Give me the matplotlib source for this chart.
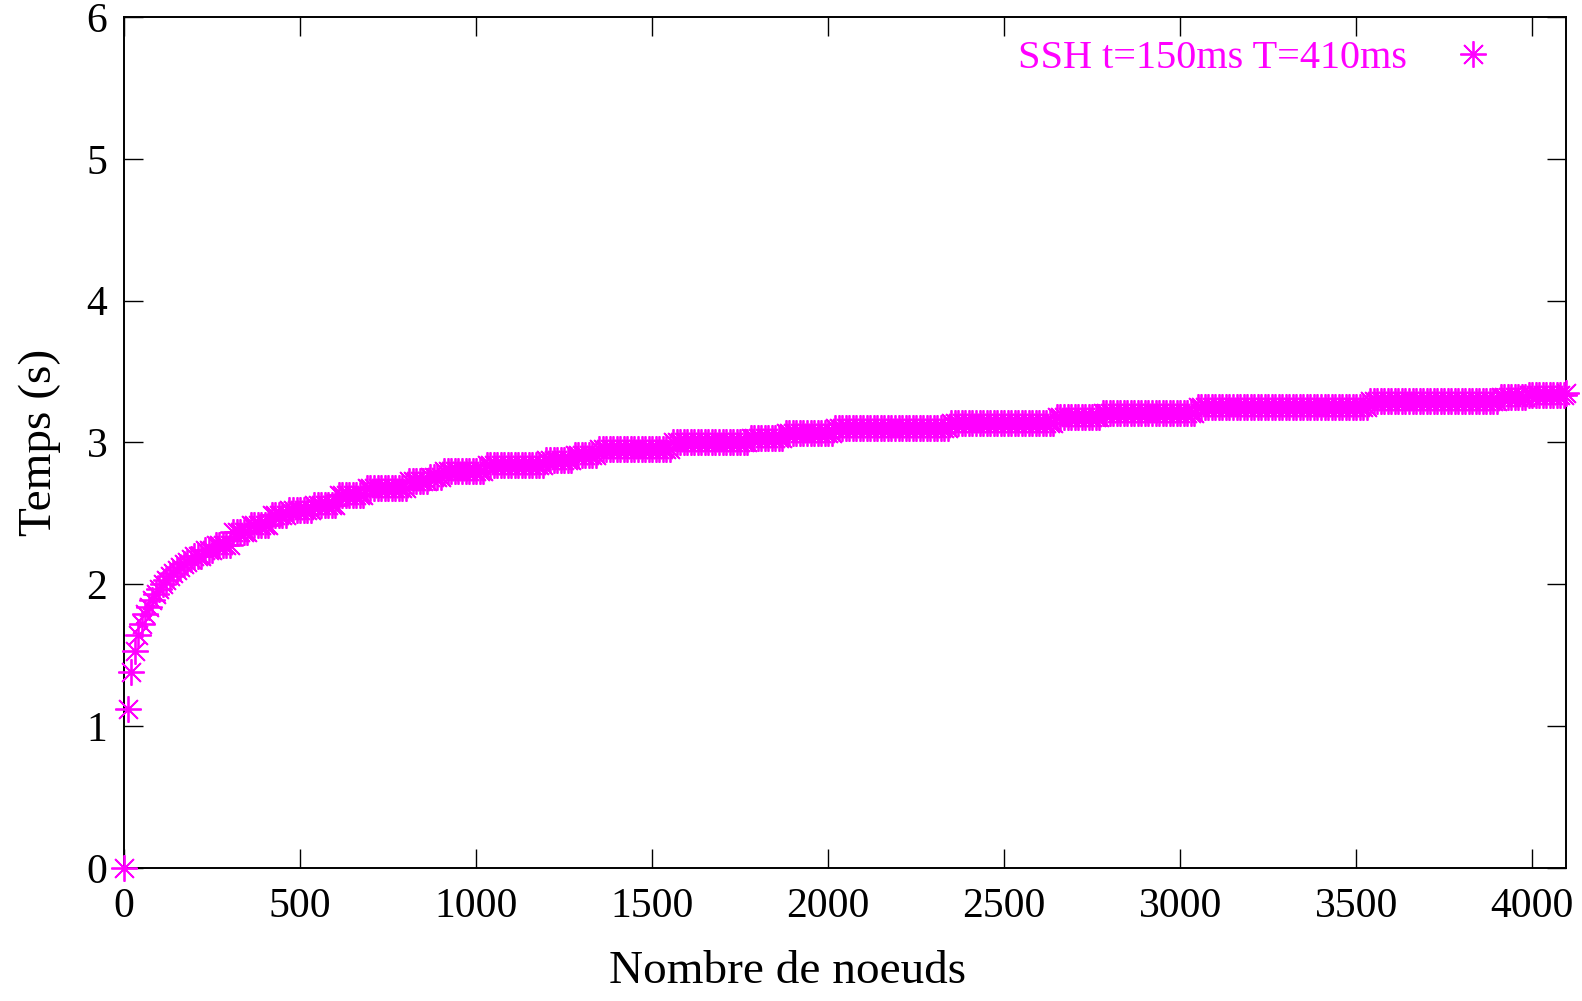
import numpy as np
import matplotlib

matplotlib.use("Agg")
import matplotlib.pyplot as plt

plt.rcParams["font.family"] = ["Liberation Serif", "DejaVu Serif"]

MAGENTA = "#FF00FF"

# --- début de courbe, lu point par point (noeuds, secondes)
EARLY_N = [0, 10, 20, 30, 40, 50, 60, 70, 80, 90, 100, 110, 120, 130, 140, 150, 160, 170, 180, 190]
EARLY_T = [0.0, 1.12, 1.38, 1.53, 1.64, 1.72, 1.79, 1.84, 1.89, 1.93, 1.97, 2.00, 2.03, 2.06,
           2.08, 2.10, 2.12, 2.14, 2.16, 2.18]

# --- paliers ensuite : noeud de début du palier, temps du palier
STEP_N = [200, 230, 260, 305, 360, 415, 470, 535, 610, 690, 805, 865, 910, 1030, 1200, 1280,
          1350, 1560, 1780, 1880, 2015, 2350, 2645, 2775, 3045, 3540, 3910, 3985, 4096]
STEP_T = [2.20, 2.24, 2.28, 2.37, 2.42, 2.49, 2.525, 2.56, 2.63, 2.68, 2.73, 2.76, 2.80, 2.84,
          2.88, 2.915, 2.955, 3.00, 3.03, 3.07, 3.10, 3.14, 3.18, 3.21, 3.25, 3.29, 3.32, 3.335,
          3.35]

SAMPLE_STEP = 10  # une mesure tous les 10 noeuds
LABEL = "SSH t=150ms T=410ms"

nodes = np.append(np.arange(0, 4096, SAMPLE_STEP), 4096)
early = dict(zip(EARLY_N, EARLY_T))
times = []
for n in nodes:
    if n in early:
        times.append(early[n])
    else:
        i = np.searchsorted(STEP_N, n, side="right") - 1
        times.append(STEP_T[i])

fig = plt.figure(figsize=(15.82, 10.01), dpi=100)
ax = fig.add_axes([0.0784, 0.1331, 0.9899 - 0.0784, 0.9828 - 0.1331])

ax.plot(nodes, times, ls="none", marker=(8, 2, 0), ms=19, mew=1.3, color=MAGENTA,
        label=LABEL, clip_on=False, zorder=3)

ax.set_xlim(0, 4096)
ax.set_ylim(0, 6)
ax.set_xticks(range(0, 4001, 500))
ax.set_yticks(range(0, 7))
ax.tick_params(direction="in", length=14, width=1.0, labelsize=30, top=True, right=True,
               pad=12)
ax.tick_params(axis="x", pad=14)
for s in ax.spines.values():
    s.set_linewidth(1.4)

ax.set_xlabel("Nombre de noeuds", fontsize=34)
ax.xaxis.set_label_coords(0.46, -0.097)
ax.set_ylabel("Temps (s)", fontsize=34, labelpad=18)

leg = ax.legend(loc="upper right", frameon=False, fontsize=29, markerfirst=False,
                handlelength=1.2, handletextpad=1.05, borderaxespad=0.3,
                bbox_to_anchor=(0.972, 1.007))
for t in leg.get_texts():
    t.set_color(MAGENTA)

fig.savefig("out.png")
